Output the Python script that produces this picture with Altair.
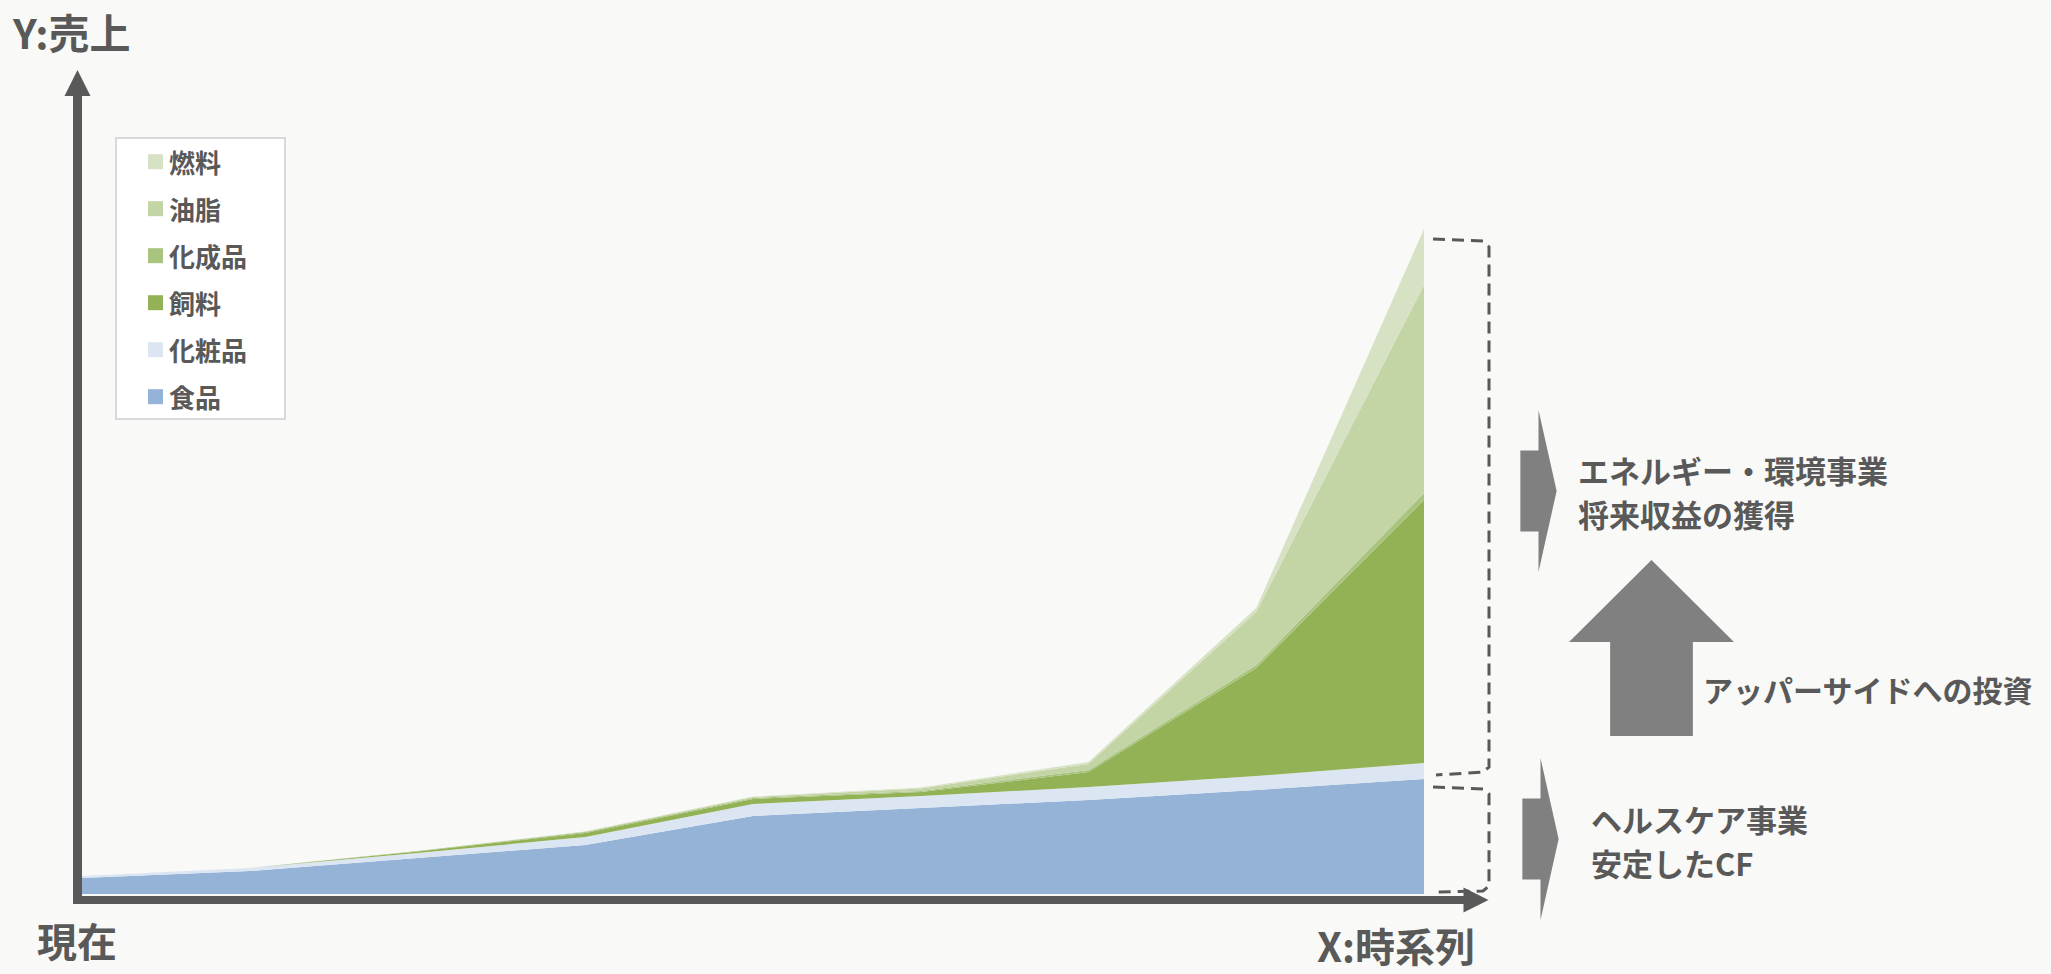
import altair as alt
import pandas as pd

# ---------------- data ----------------
periods = [0, 1, 2, 3, 4, 5, 6, 7, 8]          # time steps along X:時系列
series = ["食品", "化粧品", "飼料", "化成品", "油脂", "燃料"]  # stacking order, bottom -> top
food      = [16, 23, 36, 49, 78, 86, 94, 104, 115]
cosmetics = [2, 3, 5, 8, 12, 12, 13, 14, 16]
feed      = [0, 0, 1.5, 4, 5, 4, 15, 108, 263]
chemicals = [0, 0, 0.5, 1, 1, 1, 2, 3, 7]
oils      = [0, 0, 0, 0.5, 1, 2.5, 6, 53, 208]
fuel      = [0, 0, 0, 0, 0.5, 1, 2, 4, 56]
series_values = [food, cosmetics, feed, chemicals, oils, fuel]

colors = ["#95b3d7", "#dce6f2", "#93b256", "#a8c47e", "#c3d4a5", "#d7e2c4"]

y_axis_label = "Y:売上"
x_axis_label = "X:時系列"
origin_label = "現在"
upper_lines = ["エネルギー・環境事業", "将来収益の獲得"]
lower_lines = ["ヘルスケア事業", "安定したCF"]
invest_label = "アッパーサイドへの投資"

# ---------------- styling / layout ----------------
W, H = 2051, 974
FONT = "Noto Sans CJK JP"
TXT = "#595959"
ARROW = "#808080"
BG = "#f9f9f7"

rows = []
for k, (name, vals) in enumerate(zip(series, series_values)):
    for p, v in zip(periods, vals):
        rows.append({"period": p, "series": name, "value": v, "ord": k})
df = pd.DataFrame(rows)

xscale = alt.Scale(domain=[0, 8], range=[82, 1424], nice=False, zero=False)
yscale = alt.Scale(domain=[0, 666], range=[894, 228], nice=False)

area = alt.Chart(df).mark_area(opacity=1, interpolate="linear").encode(
    x=alt.X("period:Q", scale=xscale, axis=None),
    y=alt.Y("value:Q", stack="zero", scale=yscale, axis=None),
    color=alt.Color("series:N", scale=alt.Scale(domain=series, range=colors), legend=None),
    order=alt.Order("ord:Q"),
)

one = pd.DataFrame({"a": [0]})

def px(field):
    return alt.X(f"{field}:Q", scale=None, axis=None)

def py(field):
    return alt.Y(f"{field}:Q", scale=None, axis=None)

# axes (thick arrows)
axes_df = pd.DataFrame([
    {"x": 77.5, "x2": 77.5, "y": 904, "y2": 95, "w": 9},
    {"x": 73, "x2": 1465, "y": 900, "y2": 900, "w": 8},
])
axes = alt.Chart(axes_df).mark_rule(color=TXT).encode(
    x=px("x"), x2="x2:Q", y=py("y"), y2="y2:Q",
    strokeWidth=alt.StrokeWidth("w:Q", scale=None, legend=None),
)
up_head = alt.Chart(one).mark_point(
    shape="M0,-1L1,1L-1,1Z", size=676, filled=True, opacity=1, color=TXT, strokeWidth=0
).encode(x=alt.value(77.5), y=alt.value(83))
right_head = alt.Chart(one).mark_point(
    shape="M1,0L-1,-1L-1,1Z", size=625, filled=True, opacity=1, color=TXT, strokeWidth=0
).encode(x=alt.value(1476), y=alt.value(900))

# dashed brackets
br_rows = []
upper_pts = [(1433, 239), (1483, 241), (1489, 247), (1489, 767), (1483, 772), (1436, 775)]
lower_pts = [(1433, 787), (1483, 789), (1489, 794), (1489, 886), (1483, 891), (1433, 892)]
for seg, pts in (("u", upper_pts), ("l", lower_pts)):
    for i, (bx, by) in enumerate(pts):
        br_rows.append({"seg": seg, "i": i, "bx": bx, "by": by})
brackets = alt.Chart(pd.DataFrame(br_rows)).mark_line(
    color=TXT, strokeWidth=3, strokeDash=[12, 7]
).encode(x=px("bx"), y=py("by"), detail="seg:N", order="i:Q")

# block arrows
right_arrow_shape = "M-0.224,-0.5L0,-0.5L0,-1L0.224,0L0,1L0,0.5L-0.224,0.5Z"
arrow_upper = alt.Chart(one).mark_point(
    shape=right_arrow_shape, size=162 * 162, filled=True, opacity=1, color=ARROW, strokeWidth=0
).encode(x=alt.value(1538.5), y=alt.value(491))
arrow_lower = alt.Chart(one).mark_point(
    shape=right_arrow_shape, size=162 * 162, filled=True, opacity=1, color=ARROW, strokeWidth=0
).encode(x=alt.value(1540.5), y=alt.value(839))
up_shape = "M0,-1L0.9375,-0.068L0.47,-0.068L0.47,1L-0.47,1L-0.47,-0.068L-0.9375,-0.068Z"
arrow_up = alt.Chart(one).mark_point(
    shape=up_shape, size=176 * 176, filled=True, opacity=1, color=ARROW, strokeWidth=0
).encode(x=alt.value(1651.5), y=alt.value(648))

# texts
text_rows = [
    {"t": y_axis_label, "tx": 13, "ty": 37, "fs": 41},
    {"t": origin_label, "tx": 37, "ty": 945, "fs": 40},
    {"t": x_axis_label, "tx": 1317, "ty": 950, "fs": 40},
    {"t": upper_lines[0], "tx": 1578, "ty": 474, "fs": 31},
    {"t": upper_lines[1], "tx": 1578, "ty": 518, "fs": 31},
    {"t": invest_label, "tx": 1703, "ty": 693, "fs": 30},
    {"t": lower_lines[0], "tx": 1591, "ty": 823, "fs": 31},
    {"t": lower_lines[1], "tx": 1591, "ty": 867, "fs": 31},
]
texts = alt.Chart(pd.DataFrame(text_rows)).mark_text(
    align="left", baseline="middle", font=FONT, fontWeight="bold", color=TXT
).encode(
    x=px("tx"), y=py("ty"), text="t:N",
    size=alt.Size("fs:Q", scale=None, legend=None),
)

# legend (drawn box, top item = top of stack)
leg_box = alt.Chart(one).mark_rect(fill="white", stroke="#d9d9d9", strokeWidth=2).encode(
    x=alt.value(116), x2=alt.value(285), y=alt.value(138), y2=alt.value(419)
)
leg_rows = []
for j, (name, col) in enumerate(zip(series[::-1], colors[::-1])):
    leg_rows.append({"name": name, "ly": 161.7 + 47 * j, "col": col})
leg_df = pd.DataFrame(leg_rows)
leg_sw = alt.Chart(leg_df).mark_square(size=225, opacity=1).encode(
    x=alt.value(155.5), y=py("ly"), color=alt.Color("col:N", scale=None, legend=None)
)
leg_tx = alt.Chart(leg_df).mark_text(
    align="left", baseline="middle", font=FONT, fontWeight="bold", fontSize=26, color=TXT
).encode(x=alt.value(169), y=alt.Y("ly:Q", scale=None, axis=None), text="name:N", yOffset=alt.value(3))

chart = alt.layer(
    area, axes, up_head, right_head, brackets, arrow_upper, arrow_lower, arrow_up,
    texts, leg_box, leg_sw, leg_tx,
).properties(
    width=W, height=H, autosize="none", padding=0, background=BG
).configure_view(strokeWidth=0)

chart.save("out.html", embed_options={"renderer": "svg", "actions": False})
